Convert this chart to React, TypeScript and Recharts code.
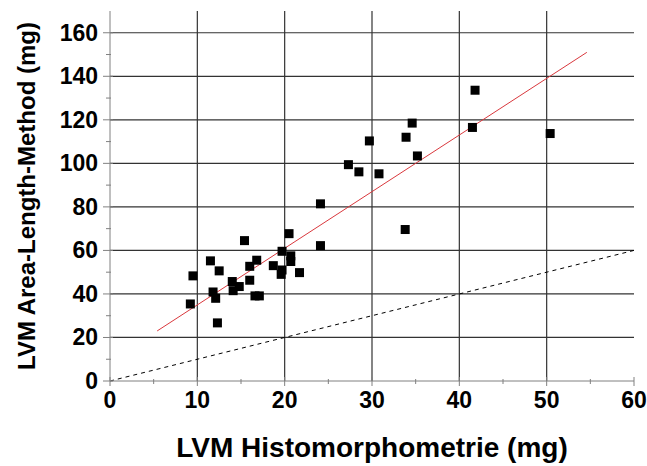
import React from 'react';
import { ScatterChart, Scatter, XAxis, YAxis, ReferenceLine, Label } from 'recharts';

// LVM histomorphometry (x) vs area-length method (y), mg
const histo = [
  9.5, 9.2, 11.5, 12.5, 15.4, 11.8, 12.1, 12.3, 14.0, 14.1, 14.8, 16.0, 16.0,
  16.8, 16.6, 17.1, 18.7, 19.7, 19.7, 19.6, 20.5, 20.7, 20.7, 21.7, 24.1, 24.1,
  27.3, 28.5, 29.7, 30.8, 33.8, 33.9, 34.6, 35.2, 41.5, 41.8, 50.4,
];
const areaLength = [
  48.3, 35.4, 55.2, 50.6, 64.5, 40.9, 38.0, 26.7, 45.7, 41.5, 43.4, 46.3, 52.7,
  55.5, 39.1, 39.1, 53.0, 59.6, 51.0, 49.0, 67.7, 57.5, 54.9, 49.8, 62.2, 81.4,
  99.4, 96.1, 110.3, 95.2, 69.6, 112.0, 118.5, 103.4, 116.5, 133.6, 113.7,
];

// regression line ends and identity line
const fitLine = [
  { x: 5.4, y: 23 },
  { x: 54.6, y: 151 },
];
const identityLine = [
  { x: 0, y: 0 },
  { x: 60, y: 60 },
];

const xTicks = [0, 5, 10, 15, 20, 25, 30, 35, 40, 45, 50, 55, 60];
const yTicks = [0, 10, 20, 30, 40, 50, 60, 70, 80, 90, 100, 110, 120, 130, 140, 150, 160];
const gridX = [10, 20, 30, 40, 50];
const gridY = [20, 40, 60, 80, 100, 120, 140, 160];

const points = histo.map((x, i) => ({ x, y: areaLength[i] }));

const FONT = '"Liberation Sans", Arial, sans-serif';

const XTick = (props: any) => {
  const { x, y, payload } = props;
  const major = payload.value % 10 === 0;
  return (
    <g>
      <line x1={x} x2={x} y1={y - (major ? 4 : 2)} y2={y + (major ? 5 : 3)} stroke="#808080" />
      {major && (
        <text x={x} y={y + 27} textAnchor="middle" fontFamily={FONT} fontWeight="bold" fontSize={23} fill="#000">
          {payload.value}
        </text>
      )}
    </g>
  );
};

const YTick = (props: any) => {
  const { x, y, payload } = props;
  const major = payload.value % 20 === 0;
  return (
    <g>
      <line x1={x - (major ? 7 : 4)} x2={x + (major ? 3 : 1)} y1={y} y2={y} stroke="#808080" />
      {major && (
        <text x={x - 12} y={y + 8} textAnchor="end" fontFamily={FONT} fontWeight="bold" fontSize={23} fill="#000">
          {payload.value}
        </text>
      )}
    </g>
  );
};

const Square = (props: any) => {
  const { cx, cy } = props;
  return <rect x={cx - 4.5} y={cy - 4.5} width={9} height={9} fill="#000" />;
};

export default function App() {
  return (
    <div style={{ position: 'absolute', left: 0, top: 0, background: '#fff' }}>
      <ScatterChart width={647} height={466} margin={{ top: 11, right: 13, bottom: 0, left: 0 }}>
        <XAxis
          type="number"
          dataKey="x"
          domain={[0, 60]}
          ticks={xTicks}
          interval={0}
          tick={<XTick />}
          tickLine={false}
          tickSize={0}
          tickMargin={0}
          height={85}
          axisLine={{ stroke: '#808080' }}
        >
          <Label
            value="LVM Histomorphometrie (mg)"
            position="insideBottom"
            offset={9}
            style={{ fontFamily: FONT, fontWeight: 'bold', fontSize: 28, fill: '#000' }}
          />
        </XAxis>
        <YAxis
          type="number"
          dataKey="y"
          domain={[0, 170]}
          ticks={yTicks}
          interval={0}
          tick={<YTick />}
          tickLine={false}
          tickSize={0}
          tickMargin={0}
          width={110}
          axisLine={{ stroke: '#808080' }}
        >
          <Label
            value="LVM Area-Length-Method (mg)"
            angle={-90}
            position="insideLeft"
            offset={26}
            style={{ fontFamily: FONT, fontWeight: 'bold', fontSize: 24, fill: '#000', textAnchor: 'middle' }}
          />
        </YAxis>
        {gridX.map((v) => (
          <ReferenceLine key={'gx' + v} x={v} stroke="#333" strokeWidth={1.2} />
        ))}
        {gridY.map((v) => (
          <ReferenceLine key={'gy' + v} y={v} stroke="#333" strokeWidth={1.2} />
        ))}
        <ReferenceLine segment={identityLine} stroke="#000" strokeWidth={1} strokeDasharray="4 4" />
        <ReferenceLine segment={fitLine} stroke="#d9383d" strokeWidth={1} />
        <Scatter data={points} shape={<Square />} isAnimationActive={false} />
      </ScatterChart>
    </div>
  );
}
